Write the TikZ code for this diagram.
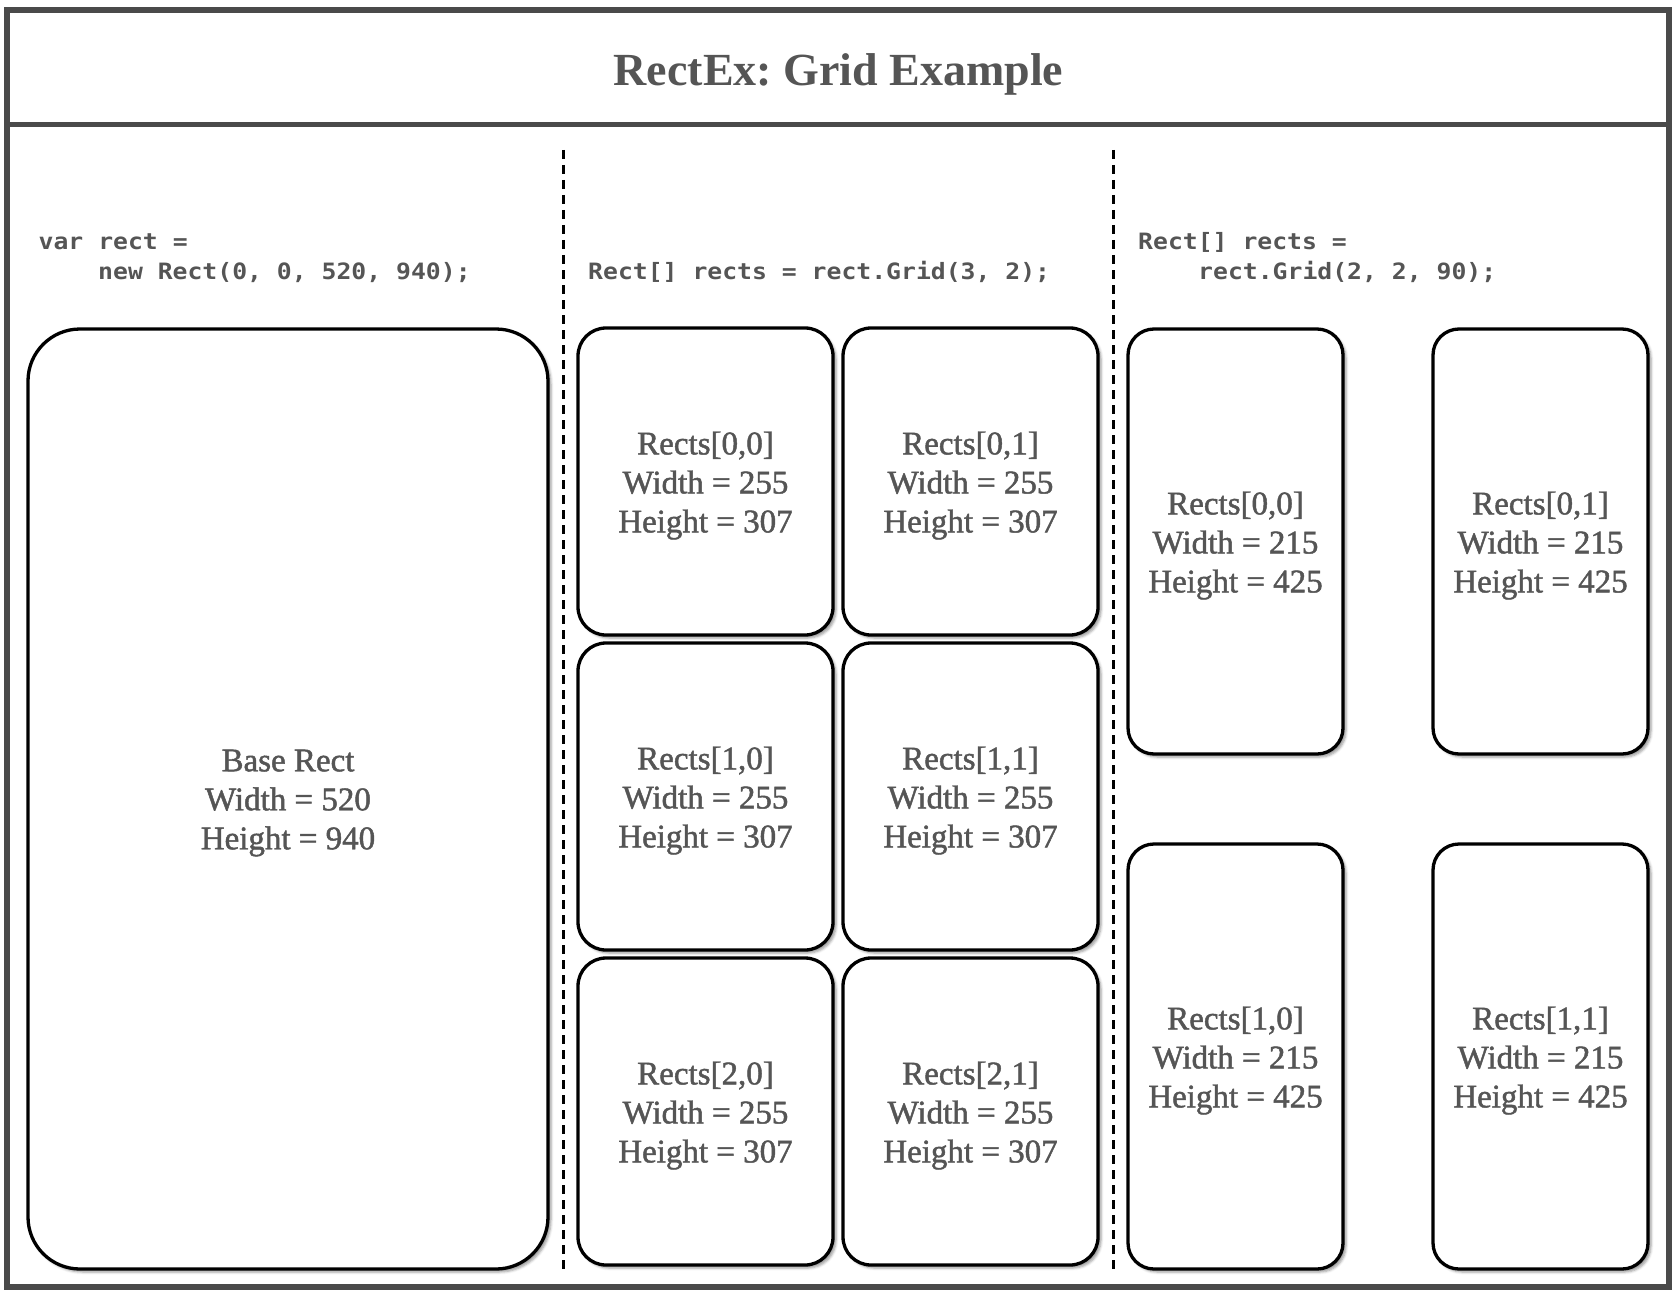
\documentclass[tikz,border=0pt]{standalone}
\usepackage{fontspec}
\setmainfont{Liberation Serif}
\newfontfamily\labelfont{Liberation Serif}[FakeBold=1.4]
\newfontfamily\codefont{DejaVu Sans Mono}[FakeStretch=1.1]
\usetikzlibrary{shadows.blur}
\frenchspacing
\definecolor{txtgray}{HTML}{555555}
\definecolor{framegray}{HTML}{4A4A4A}
\tikzset{
  rbox/.style={draw=black, line width=3.3pt, fill=white, rounded corners=#1,
    inner sep=0pt,
    blur shadow={shadow xshift=3pt, shadow yshift=-3pt, shadow blur radius=2.5pt, shadow opacity=40}},
  midbox/.style={rbox=28pt, minimum width=255pt, minimum height=307pt},
  rightbox/.style={rbox=26pt, minimum width=215pt, minimum height=425pt},
  boxtext/.style={inner sep=0pt, align=center, text=txtgray, yshift=-4pt,
    font=\labelfont\fontsize{33}{39}\selectfont},
  codeline/.style={anchor=base west, inner sep=0pt, text=txtgray,
    font=\codefont\bfseries\fontsize{22.5}{30}\selectfont},
  framestroke/.style={draw=framegray, line width=6pt},
  divider/.style={draw=black, line width=3pt, dash pattern=on 9pt off 6pt}
}
\begin{document}
\begin{tikzpicture}[x=1pt, y=-1pt]
\useasboundingbox (0,0) rectangle (1677,1297);
% frame
\draw[framestroke] (7,10) rectangle (1669,1287);
\draw[framestroke, line width=5pt] (7,125) -- (1669,125);
\node[anchor=base, inner sep=0pt, text=txtgray, font=\bfseries\fontsize{46}{50}\selectfont] (title) at (838.5,86) {RectEx: Grid Example};
% dividers
\coordinate (d1t) at (563,150); \coordinate (d1b) at (563,1270);
\coordinate (d2t) at (1113,150); \coordinate (d2b) at (1113,1270);
\draw[divider] (d1t) -- (d1b);
\draw[divider] (d2t) -- (d2b);
% code
\node[codeline] (c1a) at (38.5,250) {var rect =};
\node[codeline] (c1b) at (98,279.5) {new Rect(0, 0, 520, 940);};
\node[codeline] (c2a) at (588,279.5) {Rect[] rects = rect.Grid(3, 2);};
\node[codeline] (c3a) at (1138,250) {Rect[] rects =};
\node[codeline] (c3b) at (1198,279.5) {rect.Grid(2, 2, 90);};
% base rect
\node[rbox=52pt, minimum width=520pt, minimum height=940pt] (base) at (288,799) {};
\node[boxtext] (baset) at (base.center) {Base Rect\\Width = 520\\Height = 940};
% middle grid
\node[midbox] (m00) at (705.5,481.5) {};
\node[midbox] (m01) at (970.5,481.5) {};
\node[midbox] (m10) at (705.5,796.5) {};
\node[midbox] (m11) at (970.5,796.5) {};
\node[midbox] (m20) at (705.5,1111.5) {};
\node[midbox] (m21) at (970.5,1111.5) {};
\node[boxtext] (m00t) at (m00.center) {Rects[0,0]\\Width = 255\\Height = 307};
\node[boxtext] (m01t) at (m01.center) {Rects[0,1]\\Width = 255\\Height = 307};
\node[boxtext] (m10t) at (m10.center) {Rects[1,0]\\Width = 255\\Height = 307};
\node[boxtext] (m11t) at (m11.center) {Rects[1,1]\\Width = 255\\Height = 307};
\node[boxtext] (m20t) at (m20.center) {Rects[2,0]\\Width = 255\\Height = 307};
\node[boxtext] (m21t) at (m21.center) {Rects[2,1]\\Width = 255\\Height = 307};
% right grid
\node[rightbox] (r00) at (1235.5,541.5) {};
\node[rightbox] (r01) at (1540.5,541.5) {};
\node[rightbox] (r10) at (1235.5,1056.5) {};
\node[rightbox] (r11) at (1540.5,1056.5) {};
\node[boxtext] (r00t) at (r00.center) {Rects[0,0]\\Width = 215\\Height = 425};
\node[boxtext] (r01t) at (r01.center) {Rects[0,1]\\Width = 215\\Height = 425};
\node[boxtext] (r10t) at (r10.center) {Rects[1,0]\\Width = 215\\Height = 425};
\node[boxtext] (r11t) at (r11.center) {Rects[1,1]\\Width = 215\\Height = 425};
\end{tikzpicture}
\end{document}
